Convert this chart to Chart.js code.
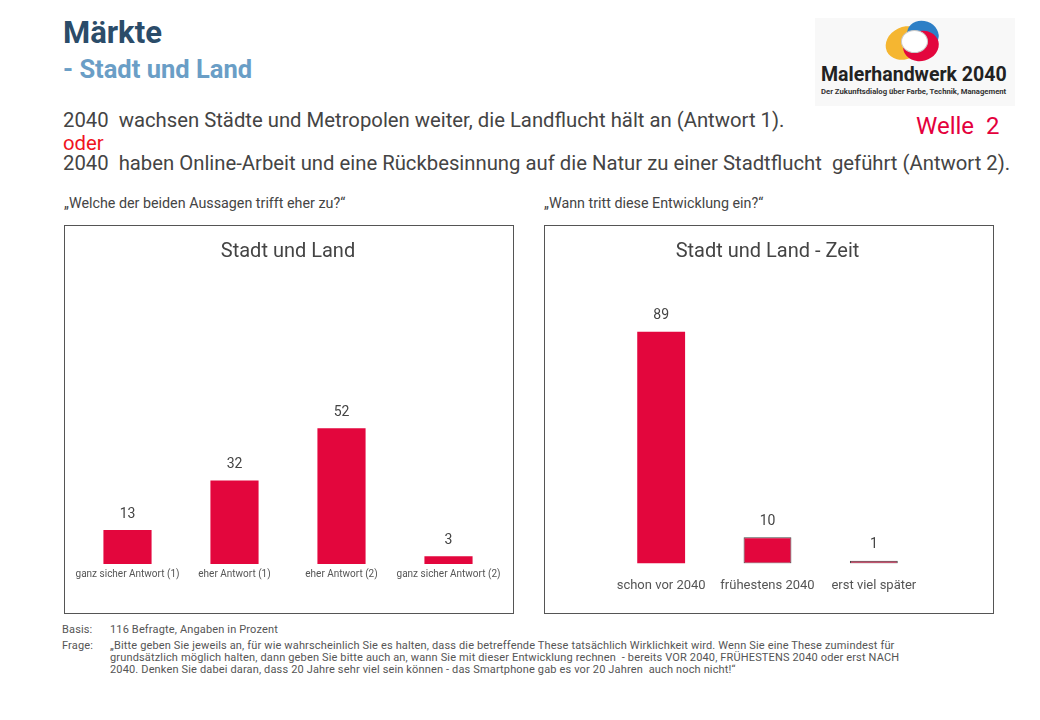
<!DOCTYPE html>
<html lang="de">
<head>
  <meta charset="UTF-8">
  <title>Märkte - Stadt und Land</title>
  <script src="https://cdn.jsdelivr.net/npm/chart.js"></script>
  <style>
    body { margin: 0; width: 1040px; height: 720px; background: #fff; font-family: Roboto, sans-serif; color: #444; position: relative; overflow: hidden; }
    .abs { position: absolute; white-space: nowrap; }
    .h1 { left: 63px; top: 14px; font-size: 31px; font-weight: bold; color: #2b4c69; }
    .h2 { left: 63px; top: 54px; font-size: 25.5px; font-weight: bold; color: #6a9ec6; }
    .stmt { left: 63px; font-size: 20.3px; color: #444; }
    .oder { left: 63px; top: 131px; font-size: 20.3px; color: #f0141e; }
    .welle { left: 916px; top: 112px; font-size: 24px; color: #e4003c; }
    .q { font-size: 14.3px; color: #444; top: 195px; }
    .box { position: absolute; top: 225px; width: 448px; height: 387px; border: 1px solid #555; }
    .logo { left: 815px; top: 18px; width: 200px; height: 88px; background: #f8f8f8; }
    .logo .t1 { position: absolute; left: 6px; top: 45px; font-size: 19.5px; font-weight: bold; color: #222; }
    .logo .t2 { position: absolute; left: 6px; top: 69px; font-size: 7.7px; font-weight: bold; color: #333; }
    .blob { position: absolute; border-radius: 50%; }
    .foot { font-size: 11px; letter-spacing: 0.15px; color: #555; left: 62px; }
    .foot span { position: absolute; left: 48px; }
  </style>
</head>
<body>
  <div class="abs h1">Märkte</div>
  <div class="abs h2">- Stadt und Land</div>

  <div class="abs logo">
    <div class="blob" style="left:70px;top:9px;width:40px;height:32px;background:#f5b631;transform:rotate(-25deg)"></div>
    <div class="blob" style="left:92px;top:3px;width:32px;height:27px;background:#2d7fc6;transform:rotate(20deg)"></div>
    <div class="blob" style="left:88px;top:13px;width:36px;height:30px;background:#e3063d;transform:rotate(-15deg)"></div>
    <div class="blob" style="left:86px;top:12px;width:25px;height:21px;background:#fff;border:1px solid #c9c9c9"></div>
    <div class="t1">Malerhandwerk 2040</div>
    <div class="t2">Der Zukunftsdialog über Farbe, Technik, Management</div>
  </div>

  <div class="abs stmt" style="top:108px">2040&nbsp; wachsen Städte und Metropolen weiter, die Landflucht hält an (Antwort 1).</div>
  <div class="abs oder">oder</div>
  <div class="abs stmt" style="top:151px">2040&nbsp; haben Online-Arbeit und eine Rückbesinnung auf die Natur zu einer Stadtflucht&nbsp; geführt (Antwort 2).</div>
  <div class="abs welle">Welle&nbsp; 2</div>

  <div class="abs q" style="left:64px">„Welche der beiden Aussagen trifft eher zu?“</div>
  <div class="abs q" style="left:544px">„Wann tritt diese Entwicklung ein?“</div>

  <div class="box" style="left:64px"><canvas id="chartLand" width="448" height="387"></canvas></div>
  <div class="box" style="left:544px"><canvas id="chartZeit" width="448" height="387"></canvas></div>

  <div class="abs foot" style="top:623px">Basis:<span>116 Befragte, Angaben in Prozent</span></div>
  <div class="abs foot" style="top:640px;line-height:12px">Frage:<span>„Bitte geben Sie jeweils an, für wie wahrscheinlich Sie es halten, dass die betreffende These tatsächlich Wirklichkeit wird. Wenn Sie eine These zumindest für<br>grundsätzlich möglich halten, dann geben Sie bitte auch an, wann Sie mit dieser Entwicklung rechnen&nbsp; - bereits VOR 2040, FRÜHESTENS 2040 oder erst NACH<br>2040. Denken Sie dabei daran, dass 20 Jahre sehr viel sein können - das Smartphone gab es vor 20 Jahren&nbsp; auch noch nicht!“</span></div>

  <script>
    const landLabels = ['ganz sicher Antwort (1)', 'eher Antwort (1)', 'eher Antwort (2)', 'ganz sicher Antwort (2)'];
    const landValues = [13, 32, 52, 3];
    const zeitLabels = ['schon vor 2040', 'frühestens 2040', 'erst viel später'];
    const zeitValues = [89, 10, 1];
    const zeitBorders = [0, 1, 1];

    const barRed = '#e3063d';

    // draws the value above each bar
    const valueLabels = {
      id: 'valueLabels',
      afterDatasetsDraw(chart) {
        const ctx = chart.ctx;
        const meta = chart.getDatasetMeta(0);
        ctx.save();
        ctx.fillStyle = '#444';
        ctx.font = '14px Roboto';
        ctx.textAlign = 'center';
        ctx.textBaseline = 'middle';
        meta.data.forEach((bar, i) => {
          ctx.fillText(chart.data.datasets[0].data[i], bar.x, bar.y - 16);
        });
        ctx.restore();
      }
    };

    function makeChart(id, title, labels, values, tickSize, tickPad, padding, borders) {
      return new Chart(document.getElementById(id), {
        type: 'bar',
        data: {
          labels: labels,
          datasets: [{
            data: values,
            backgroundColor: barRed,
            borderColor: '#444',
            borderWidth: borders || 0,
            borderSkipped: false,
            barPercentage: 0.9,
            categoryPercentage: 0.5
          }]
        },
        options: {
          responsive: false,
          animation: false,
          layout: { padding: padding },
          scales: {
            x: {
              grid: { display: false, drawTicks: false },
              border: { display: false },
              ticks: { color: '#555', font: { family: 'Roboto', size: tickSize }, padding: tickPad, maxRotation: 0, autoSkip: false }
            },
            y: { display: false, min: 0, max: 110 }
          },
          plugins: {
            legend: { display: false },
            tooltip: { enabled: false },
            title: {
              display: true,
              text: title,
              color: '#444',
              font: { family: 'Roboto', size: 20, weight: 'normal' },
              padding: { top: 14, bottom: 13 }
            }
          }
        },
        plugins: [valueLabels]
      });
    }

    makeChart('chartLand', 'Stadt und Land', landLabels, landValues, 10, 4, { left: 9, right: 11, bottom: 29 });
    makeChart('chartZeit', 'Stadt und Land - Zeit', zeitLabels, zeitValues, 13, 15, { left: 63, right: 66, bottom: 4 }, zeitBorders);
  </script>
</body>
</html>
